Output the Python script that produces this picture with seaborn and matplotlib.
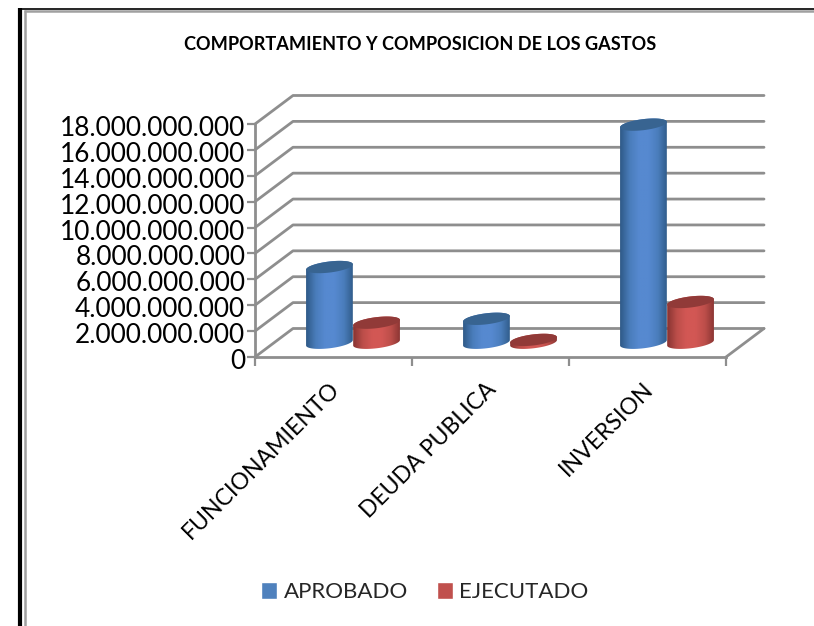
import numpy as np
import pandas as pd
import seaborn as sns
import matplotlib.pyplot as plt
from matplotlib.colors import LinearSegmentedColormap
from matplotlib.lines import Line2D
from matplotlib.patches import Polygon, PathPatch
from matplotlib.path import Path
from matplotlib.ticker import FuncFormatter
from matplotlib.transforms import Affine2D, IdentityTransform

categorias = ['FUNCIONAMIENTO', 'DEUDA PUBLICA', 'INVERSION']
aprobado = [5850000000, 1850000000, 16850000000]
ejecutado = [1550000000, 220000000, 3150000000]
series = ['APROBADO', 'EJECUTADO']
colores = ['#4F81BD', '#C0504D']
tapas = ['#386491', '#913A38']
oscuros = ['#2F5A88', '#883432']
medios = ['#4A7DBB', '#BC4E4A']
claros = ['#5689D0', '#D25754']
gris = '#8E8E8E'

df = pd.DataFrame({
    'categoria': categorias * 2,
    'serie': [series[0]] * 3 + [series[1]] * 3,
    'valor': aprobado + ejecutado,
})

W, H = 814, 626
sns.set_style('white')
plt.rcParams['font.family'] = ['Lato', 'DejaVu Sans']

fig = plt.figure(figsize=(W / 100, H / 100), dpi=100)
ax = fig.add_axes([255 / W, (H - 357) / H, (726 - 255) / W, (357 - 124) / H])

sns.barplot(data=df, x='categoria', y='valor', hue='serie', palette=colores,
            width=0.6, gap=0, saturation=1, ax=ax)
ax.set_xlim(-0.5, 2.5)
ax.set_ylim(0, 18000000000)
ax.set_xlabel('')
ax.set_ylabel('')

# profundidad del grafico 3D en pixeles
prof_x, prof_y = 38, 28.5
sx = (ax.transData.transform((1, 0)) - ax.transData.transform((0, 0)))[0]
sy = (ax.transData.transform((0, 1e9)) - ax.transData.transform((0, 0)))[1] / 1e9
dx, dy = prof_x / sx, prof_y / sy

# paredes y piso
yticks = np.arange(0, 18000000001, 2000000000)
for v in yticks:
    ax.plot([-0.5, -0.5 + dx, 2.5 + dx], [v, v + dy, v + dy], color=gris, lw=2,
            clip_on=False, zorder=1)
ax.plot([2.5, 2.5 + dx], [0, dy], color=gris, lw=2, clip_on=False, zorder=1)

# cilindros dibujados sobre las barras de seaborn
cmaps = [LinearSegmentedColormap.from_list('c', [o, m, c, c, m, o])
         for o, m, c in zip(oscuros, medios, claros)]
barras = [p for p in ax.patches if p.get_height() > 0]


def elipse(cx, cy, a, b, ang, t):
    return np.column_stack([
        cx + a * np.cos(t) * np.cos(ang) - b * np.sin(t) * np.sin(ang),
        cy + a * np.cos(t) * np.sin(ang) + b * np.sin(t) * np.cos(ang),
    ])


for i, p in enumerate(barras):
    s = i // 3
    x0, y0 = ax.transData.transform((p.get_x(), 0))
    x1, y1 = ax.transData.transform((p.get_x() + p.get_width(), p.get_height()))
    x0 += prof_x / 2 + 0.5
    x1 += prof_x / 2 + 0.5
    y0 += prof_y / 2
    y1 += prof_y / 2
    cx, a, b, ang = (x0 + x1) / 2, (x1 - x0) / 2, 5.5, np.radians(7)
    cuerpo = np.vstack([
        elipse(cx, y0, a, b, ang, np.linspace(np.pi, 2 * np.pi, 40)),
        elipse(cx, y1, a, b, ang, np.linspace(0, np.pi, 40)),
    ])
    z = 3 + i // 3 + (i % 3) * 0.1
    grad = np.linspace(0, 1, 64).reshape(1, -1)
    im = ax.imshow(grad, cmap=cmaps[s], extent=(x0, x1, y0 - 12, y1 + 12), aspect='auto',
                   origin='lower', transform=IdentityTransform(), zorder=z,
                   interpolation='bilinear')
    im.set_clip_box(fig.bbox)
    im.set_clip_path(PathPatch(Path(cuerpo), transform=IdentityTransform()))
    tapa = elipse(cx, y1, a, b, ang, np.linspace(0, 2 * np.pi, 80))
    ax.add_patch(Polygon(tapa, closed=True, facecolor=tapas[s], edgecolor='none',
                         transform=IdentityTransform(), clip_on=False, zorder=z + 0.01))
    p.set_visible(False)

ax.set_xlim(-0.5, 2.5)
ax.set_ylim(0, 18000000000)

# ejes
sns.despine(ax=ax)
for lado in ['left', 'bottom']:
    ax.spines[lado].set_color(gris)
    ax.spines[lado].set_linewidth(2)
ax.set_yticks(yticks)
ax.yaxis.set_major_formatter(FuncFormatter(lambda v, _: f'{v:,.0f}'.replace(',', '.')))
ax.set_xticks(range(3))
ax.set_xticklabels(categorias, rotation=45, ha='right', rotation_mode='anchor')
ax.set_xticks([-0.5, 0.5, 1.5, 2.5], minor=True)
ax.tick_params(axis='y', length=6, width=1.6, color=gris, left=True, labelsize=18.9,
               labelcolor='black', pad=1)
ax.tick_params(axis='x', which='major', length=0, labelsize=16.6, labelcolor='black', pad=15.5)
ax.tick_params(axis='x', which='minor', length=6.5, width=1.6, color=gris, bottom=True)
for etiqueta in ax.get_xticklabels():
    etiqueta.set_transform(etiqueta.get_transform() + Affine2D().translate(-5, 0))
for etiqueta in ax.get_yticklabels():
    etiqueta.set_transform(etiqueta.get_transform() + Affine2D().translate(0, -2))

# leyenda y titulo
h, l = ax.get_legend_handles_labels()
ax.legend(h, l, ncol=2, frameon=False, loc='center', fontsize=16,
          bbox_to_anchor=(425 / W, (H - 592) / H), bbox_transform=fig.transFigure,
          handlelength=0.7, handleheight=0.78, handletextpad=0.31, columnspacing=1.3)
fig.text(420.5 / W, (H - 44) / H, 'COMPORTAMIENTO Y COMPOSICION DE LOS GASTOS',
         ha='center', va='center', fontsize=13.1, fontweight='bold', color='black')

# marco de la pagina
fig.add_artist(Line2D([20 / W, 20 / W], [0, (H - 7.5) / H], color='black', lw=3,
                      solid_capstyle='butt'))
fig.add_artist(Line2D([18 / W, 1], [(H - 8.5) / H, (H - 8.5) / H], color='black', lw=1.2,
                      solid_capstyle='butt'))
fig.add_artist(Line2D([24.5 / W, 24.5 / W], [0, (H - 10) / H], color='#A0A0A0', lw=1.8,
                      solid_capstyle='butt'))
fig.add_artist(Line2D([24 / W, 1], [(H - 10.5) / H, (H - 10.5) / H], color='#A0A0A0', lw=1.8,
                      solid_capstyle='butt'))

fig.savefig('out.png', dpi=100)
